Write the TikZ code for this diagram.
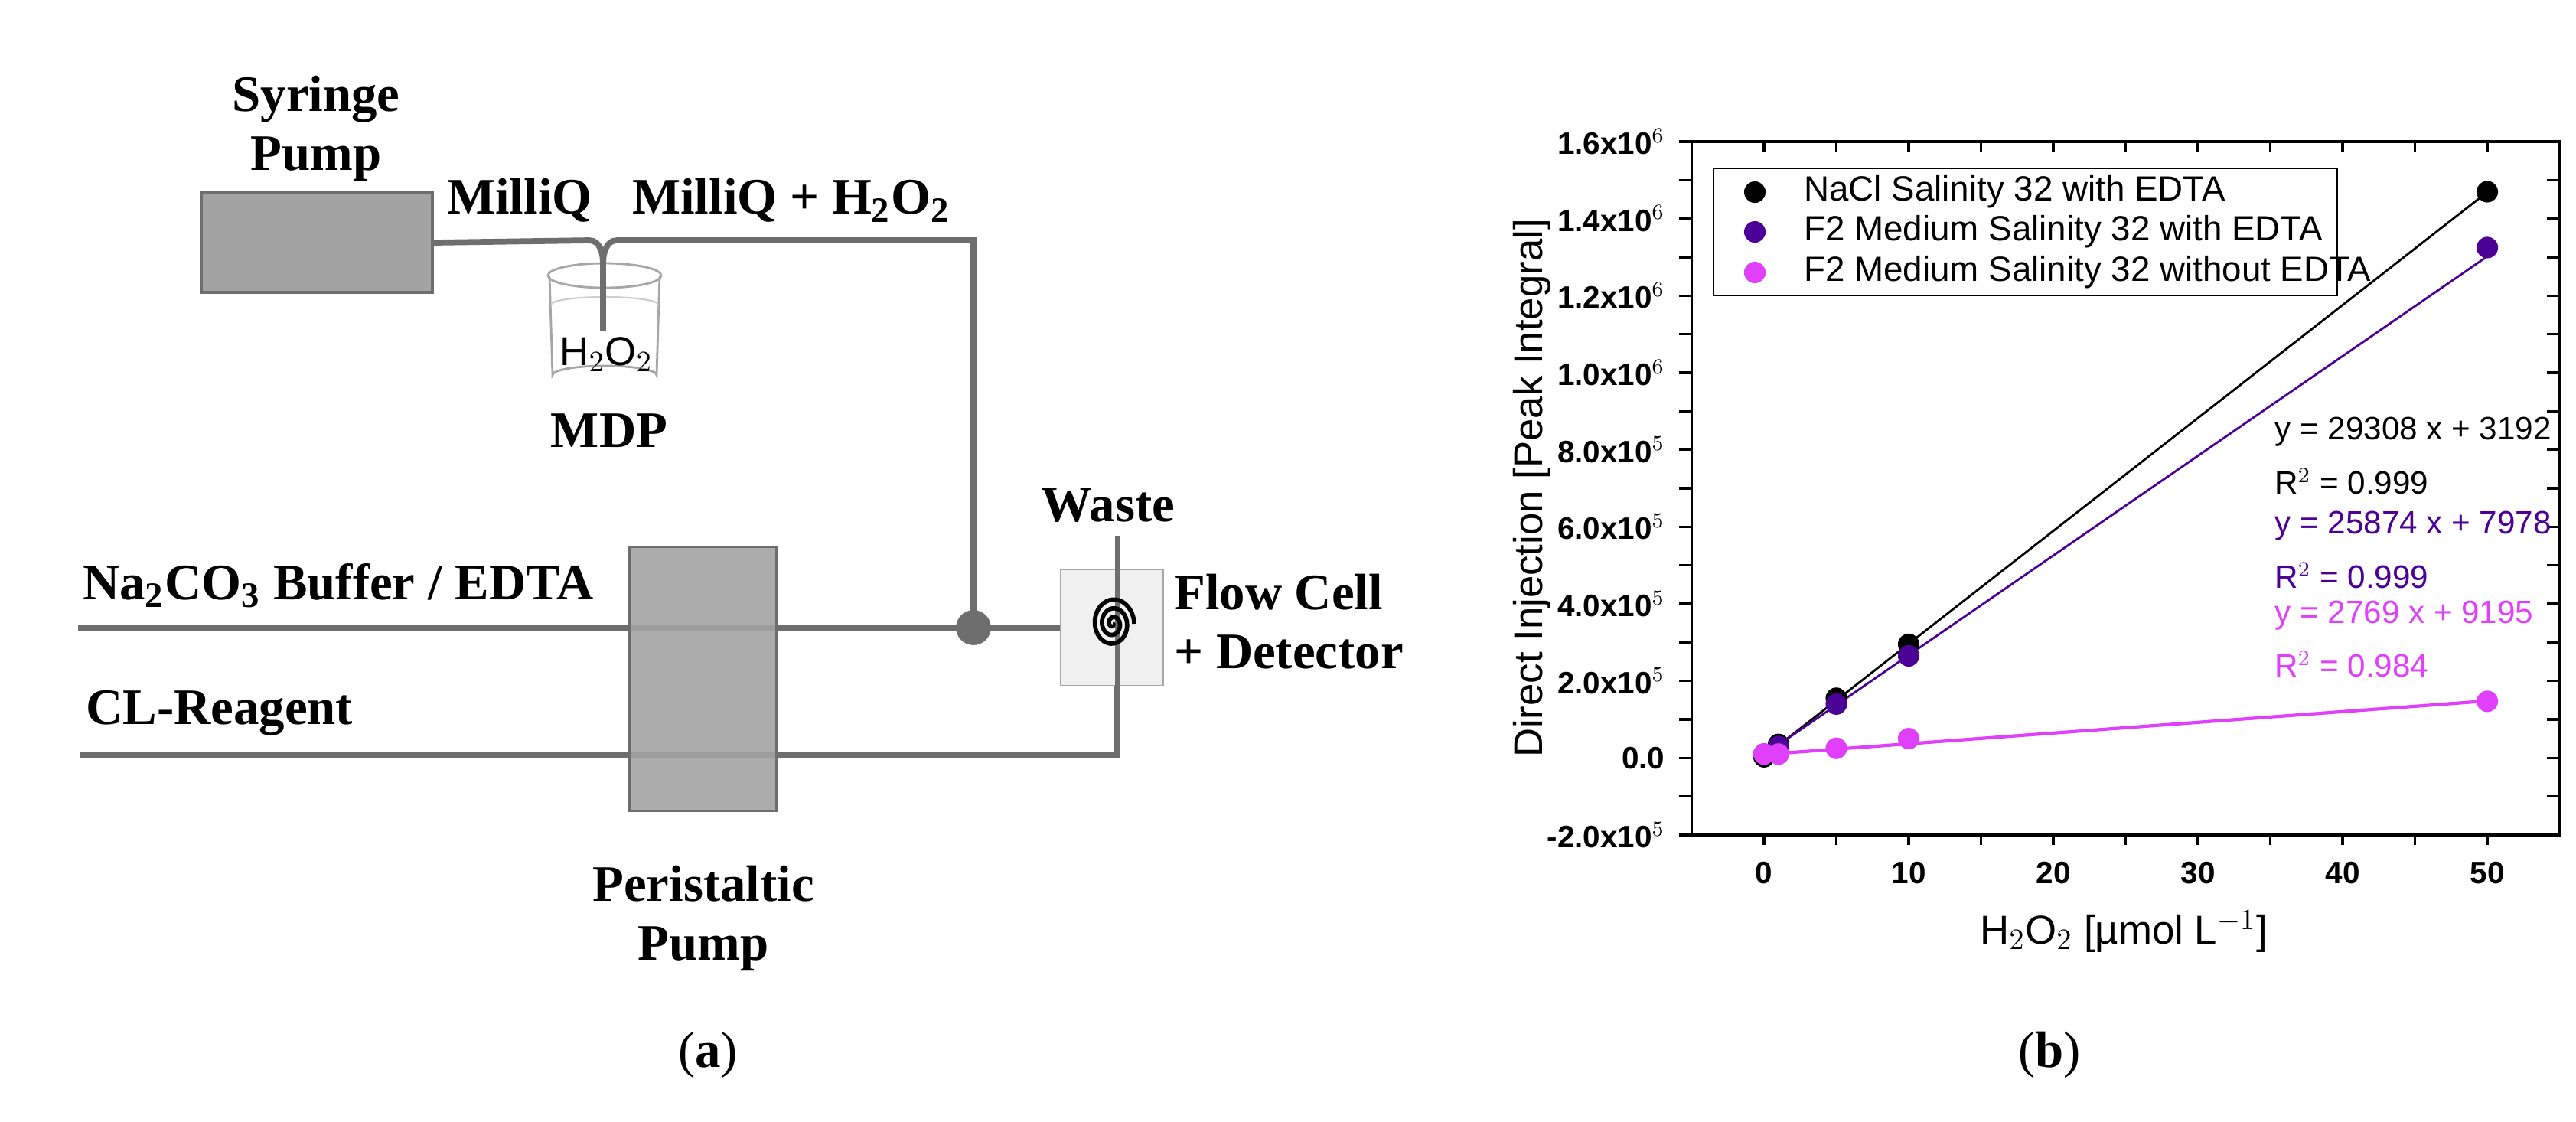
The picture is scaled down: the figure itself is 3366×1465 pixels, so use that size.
\documentclass[tikz,border=0pt]{standalone}
\usepackage{fontspec}
\setmainfont{Liberation Serif}
\newfontfamily\plotfont{Liberation Sans}
\usetikzlibrary{positioning}
\definecolor{tube}{HTML}{6E6E6E}
\definecolor{pumpgray}{HTML}{A3A3A3}
\definecolor{fcpurple}{HTML}{4B0096}
\definecolor{fcmagenta}{HTML}{E040FB}

\begin{document}
\begin{tikzpicture}[x=0.01cm, y=-0.01cm,
% node styles
pump/.style={rectangle, draw=tube, line width=1pt, fill=pumpgray, inner sep=0pt},
pipe/.style={draw=tube, line width=2.2pt},
lbl/.style={font=\fontsize{19}{22}\selectfont\bfseries, inner sep=1pt},
tick/.style={font=\plotfont\fontsize{11.5}{13}\selectfont\bfseries},
pt/.style={circle, inner sep=0pt, minimum size=8pt}
]
\useasboundingbox (0,0) rectangle (3366,1465);

% nodes
\node[pump, minimum width=3.02cm, minimum height=1.3cm] (syr) at (414,317) {};
\node[lbl, align=center] (syr_lbl) at (413,168) {Syringe\\Pump};
\node[rectangle, inner sep=0pt, minimum width=1.9cm, minimum height=3.43cm] (peri) at (919,887) {};
\node[lbl, align=center] (peri_lbl) at (919,1200) {Peristaltic\\Pump};
\node[rectangle, draw=gray!70, fill=gray!12, minimum width=1.34cm, minimum height=1.51cm, inner sep=0pt] (cell) at (1453,820) {};
\node[lbl, align=left, anchor=west] (cell_lbl) at (1530,812) {Flow Cell\\+ Detector};
\node[lbl] (waste_lbl) at (1448,660) {Waste};
\node[lbl, anchor=south west] (milliq) at (580,295) {MilliQ};
\node[lbl, anchor=south west] (milliq2) at (822,295) {MilliQ + H$_\mathbf{2}$O$_\mathbf{2}$};
\node[lbl] (mdp) at (796,563) {MDP};
\node[lbl, anchor=south west] (buf_lbl) at (104,798) {Na$_\mathbf{2}$CO$_\mathbf{3}$ Buffer / EDTA};
\node[lbl, anchor=south west] (cl_lbl) at (108,965) {CL-Reagent};
\node[circle, fill=tube, minimum size=13pt, inner sep=0pt] (tee) at (1272,820) {};
\coordinate (buf_in) at (102,820);
\coordinate (cl_in) at (104,986);
\coordinate (waste_out) at (1460,700);

% beaker
\draw[gray!70, line width=0.8pt, fill=white] (718,360) -- (722,490) arc[start angle=180, end angle=360, x radius=68, y radius=12] -- (862,360);
\draw[gray!70, line width=0.8pt] (790,360) ellipse[x radius=74, y radius=16];
\draw[gray!40, line width=0.6pt] (720,398) arc[start angle=180, end angle=360, x radius=70, y radius=10];
\node[font=\plotfont\fontsize{15}{17}\selectfont] (h2o2) at (792,463) {H$_2$O$_2$};

% tubing
\draw[pipe] (syr.east) -- (770,314) to[out=0, in=90] (788,345) -- (788,432);
\draw[pipe] (788,345) to[out=90, in=180] (806,314) -- (1272,314) -- (tee.center);
\draw[pipe] (buf_in) -- (tee.center) -- (cell.west);
\draw[pipe] (cl_in) -- (1460,986) -- (cell.south -| waste_out);
\draw[tube, line width=1.5pt] (waste_out) -- (waste_out |- cell.south);
\fill[pumpgray, opacity=0.9] (peri.north west) rectangle (peri.south east);
\draw[tube, line width=1pt] (peri.north west) rectangle (peri.south east);
\draw[line width=1.6pt, smooth, domain=0:1080, samples=120]
  plot ({1454+0.026*\x*cos(\x)}, {815+0.032*\x*sin(\x)});

% plot frame
\begin{scope}[shift={(2305,990.3)}, xscale=18.9, yscale=-50.33]
\draw[line width=1pt] (-5,-2) rectangle (55,16);
\foreach \i in {0,5,...,50} {
  \draw[line width=0.9pt] (\i,-2) -- ++(0,-0.25);
  \draw[line width=0.9pt] (\i,16) -- ++(0,-0.25);
}
\foreach \i in {0,10,...,50}
  \node[tick, anchor=north] at (\i,-2.45) {\i};
\foreach \j in {-2,-1,...,16} {
  \draw[line width=0.9pt] (-5,\j) -- ++(-0.9,0);
  \draw[line width=0.9pt] (55,\j) -- ++(-0.9,0);
}
\foreach \j/\t in {-2/-2.0x10$^{5}$, 2/2.0x10$^{5}$, 4/4.0x10$^{5}$, 6/6.0x10$^{5}$, 8/8.0x10$^{5}$, 10/1.0x10$^{6}$, 12/1.2x10$^{6}$, 14/1.4x10$^{6}$, 16/1.6x10$^{6}$}
  \node[tick, anchor=east] at (-6.2,\j) {\t};
\node[tick, anchor=east] at (-6.2,0) {0.0};

% fits and data
\draw[black, line width=0.8pt] (0,0.03) -- (50,14.69);
\draw[fcpurple, line width=0.8pt] (0,0.08) -- (50,13.02);
\draw[fcmagenta, line width=1.2pt] (0,0.09) -- (50,1.48);
\foreach \x/\y in {0/0.03, 1/0.35, 5/1.55, 10/2.95, 50/14.7}
  \node[pt, fill=black] at (\x,\y) {};
\foreach \x/\y in {0/0.1, 1/0.3, 5/1.4, 10/2.65, 50/13.25}
  \node[pt, fill=fcpurple] at (\x,\y) {};
\foreach \x/\y in {0/0.1, 1/0.1, 5/0.25, 10/0.5, 50/1.47}
  \node[pt, fill=fcmagenta] at (\x,\y) {};
\end{scope}

% legend
\draw[line width=0.8pt, fill=white] (2239,220) rectangle (3054,386);
\foreach \y/\c/\t in {251/black/NaCl Salinity 32 with EDTA, 303/fcpurple/F2 Medium Salinity 32 with EDTA, 356/fcmagenta/F2 Medium Salinity 32 without EDTA} {
  \node[pt, fill=\c] at (2293,\y) {};
  \node[anchor=west, font=\plotfont\fontsize{13}{15}\selectfont] at (2345,\y) {\t};
}

% equations
\foreach \y/\c/\t in {564/black/{y = 29308 x + 3192}, 629/black/{R$^2$ = 0.999}, 687/fcpurple/{y = 25874 x + 7978}, 752/fcpurple/{R$^2$ = 0.999}, 804/fcmagenta/{y = 2769 x + 9195}, 868/fcmagenta/{R$^2$ = 0.984}}
  \node[anchor=west, text=\c, font=\plotfont\fontsize{12}{14}\selectfont] at (2960,\y) {\t};

% axis titles
\node[rotate=90, font=\plotfont\fontsize{15}{17}\selectfont] (ylab) at (2002,638) {Direct Injection [Peak Integral]};
\node[font=\plotfont\fontsize{15}{17}\selectfont] (xlab) at (2775,1217) {H$_2$O$_2$ [µmol L$^{-1}$]};

% panel tags
\node[font=\fontsize{19}{22}\selectfont] (tag_a) at (925,1378) {(\textbf{a})};
\node[font=\fontsize{19}{22}\selectfont] (tag_b) at (2678,1378) {(\textbf{b})};
\end{tikzpicture}
\end{document}
